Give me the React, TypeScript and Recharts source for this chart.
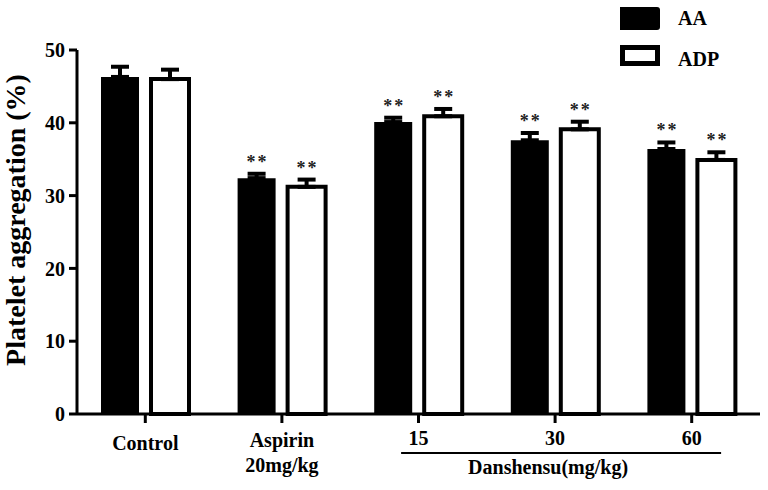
import React from 'react';
import { BarChart, Bar, XAxis, YAxis, ErrorBar, LabelList, Legend } from 'recharts';

const groups = ['Control', 'Aspirin', '15', '30', '60'];
const tickLines = [['Control'], ['Aspirin', '20mg/kg'], ['15'], ['30'], ['60']];
const groupLabel = 'Danshensu(mg/kg)';

const aaValues = [46.3, 32.4, 40.1, 37.6, 36.4];
const aaErrors = [1.4, 0.6, 0.6, 1.0, 0.9];
const adpValues = [46.0, 31.2, 40.9, 39.1, 34.9];
const adpErrors = [1.3, 1.0, 1.0, 1.05, 1.05];
const aaStars = ['', '**', '**', '**', '**'];
const adpStars = ['', '**', '**', '**', '**'];

const yTicks = [0, 10, 20, 30, 40, 50];

const FONT = '"Liberation Serif", "Times New Roman", serif';

const data = groups.map((g, i) => ({
  group: g,
  aa: aaValues[i],
  adp: adpValues[i],
  aaErr: [0, aaErrors[i]],
  adpErr: [0, adpErrors[i]],
}));

// "**" marks sit just above the error cap
const starLabel = (errs: number[], stars: string[]) => (props: any) => {
  const { x, y, width, height, value, index } = props;
  if (!stars[index]) return null;
  const pxPerUnit = height / value;
  const capTop = y - errs[index] * pxPerUnit - 2;
  return (
    <text
      x={x + width / 2 + 1}
      y={capTop - 4}
      textAnchor="middle"
      fontFamily={FONT}
      fontSize={18}
      fontWeight="bold"
      fill="#222"
      letterSpacing={2}
    >
      {stars[index]}
    </text>
  );
};

const XTick = (props: any) => {
  const { x, y, payload } = props;
  const lines = tickLines[payload.index] || [String(payload.value)];
  const isNumber = payload.index >= 2;
  return (
    <g fontFamily={FONT} fontWeight="bold" fontSize={20} fill="#000">
      {lines.map((l, i) => (
        <text
          key={i}
          x={x}
          y={y + (isNumber ? 20 : payload.index === 0 ? 25 : 22) + i * 25}
          textAnchor="middle"
        >
          {l}
        </text>
      ))}
      {payload.index === 3 && (
        <g>
          <line x1={x - 154} x2={x + 166} y1={y + 28} y2={y + 28} stroke="#000" strokeWidth={2} />
          <text x={x - 7} y={y + 49} textAnchor="middle">
            {groupLabel}
          </text>
        </g>
      )}
    </g>
  );
};

const YLabel = () => (
  <text
    x={25}
    y={220}
    transform="rotate(-90 25 220)"
    textAnchor="middle"
    fontFamily={FONT}
    fontWeight="bold"
    fontSize={28}
    fill="#000"
  >
    Platelet aggregation (%)
  </text>
);

const LegendBox = () => (
  <div style={{ position: 'relative', width: 160, height: 75, fontFamily: FONT, fontWeight: 'bold', fontSize: 20 }}>
    <div style={{ position: 'absolute', left: 20, top: 7, width: 40, height: 23, background: '#000', borderTopRightRadius: 3, borderBottomRightRadius: 3 }} />
    <div style={{ position: 'absolute', left: 78, top: 5, lineHeight: '26px' }}>AA</div>
    <div style={{ position: 'absolute', left: 20, top: 45, width: 40, height: 21, boxSizing: 'border-box', border: '5px solid #000', background: '#fff' }} />
    <div style={{ position: 'absolute', left: 78, top: 46, lineHeight: '26px' }}>ADP</div>
  </div>
);

export default function App() {
  return (
    <div style={{ position: 'absolute', left: 0, top: 0, width: 768, height: 490, background: '#fff' }}>
      <BarChart
        width={768}
        height={490}
        data={data}
        margin={{ top: 50, right: 8, bottom: 0, left: 0 }}
        barGap={12}
      >
        <XAxis
          dataKey="group"
          height={76}
          axisLine={{ stroke: '#000', strokeWidth: 3 }}
          tickLine={{ stroke: '#000', strokeWidth: 3 }}
          tickSize={9}
          tick={<XTick />}
          interval={0}
        />
        <YAxis
          width={77}
          domain={[0, 50]}
          ticks={yTicks}
          axisLine={{ stroke: '#000', strokeWidth: 3 }}
          tickLine={{ stroke: '#000', strokeWidth: 3 }}
          tickSize={8}
          tickMargin={4}
          tick={{ fill: '#000', fontFamily: FONT, fontWeight: 'bold', fontSize: 20 }}
          label={{ content: () => <YLabel /> }}
        />
        <Legend
          layout="vertical"
          align="center"
          verticalAlign="middle"
          wrapperStyle={{ top: 0, left: 600, width: 168, height: 75 }}
          content={() => <LegendBox />}
        />
        <Bar dataKey="aa" name="AA" fill="#000" barSize={38} isAnimationActive={false}>
          <ErrorBar dataKey="aaErr" direction="y" width={9} stroke="#000" strokeWidth={4} />
          <LabelList dataKey="aa" content={starLabel(aaErrors, aaStars)} />
        </Bar>
        <Bar dataKey="adp" name="ADP" fill="#fff" stroke="#000" strokeWidth={4} barSize={38} isAnimationActive={false}>
          <ErrorBar dataKey="adpErr" direction="y" width={9} stroke="#000" strokeWidth={4} />
          <LabelList dataKey="adp" content={starLabel(adpErrors, adpStars)} />
        </Bar>
      </BarChart>
    </div>
  );
}
